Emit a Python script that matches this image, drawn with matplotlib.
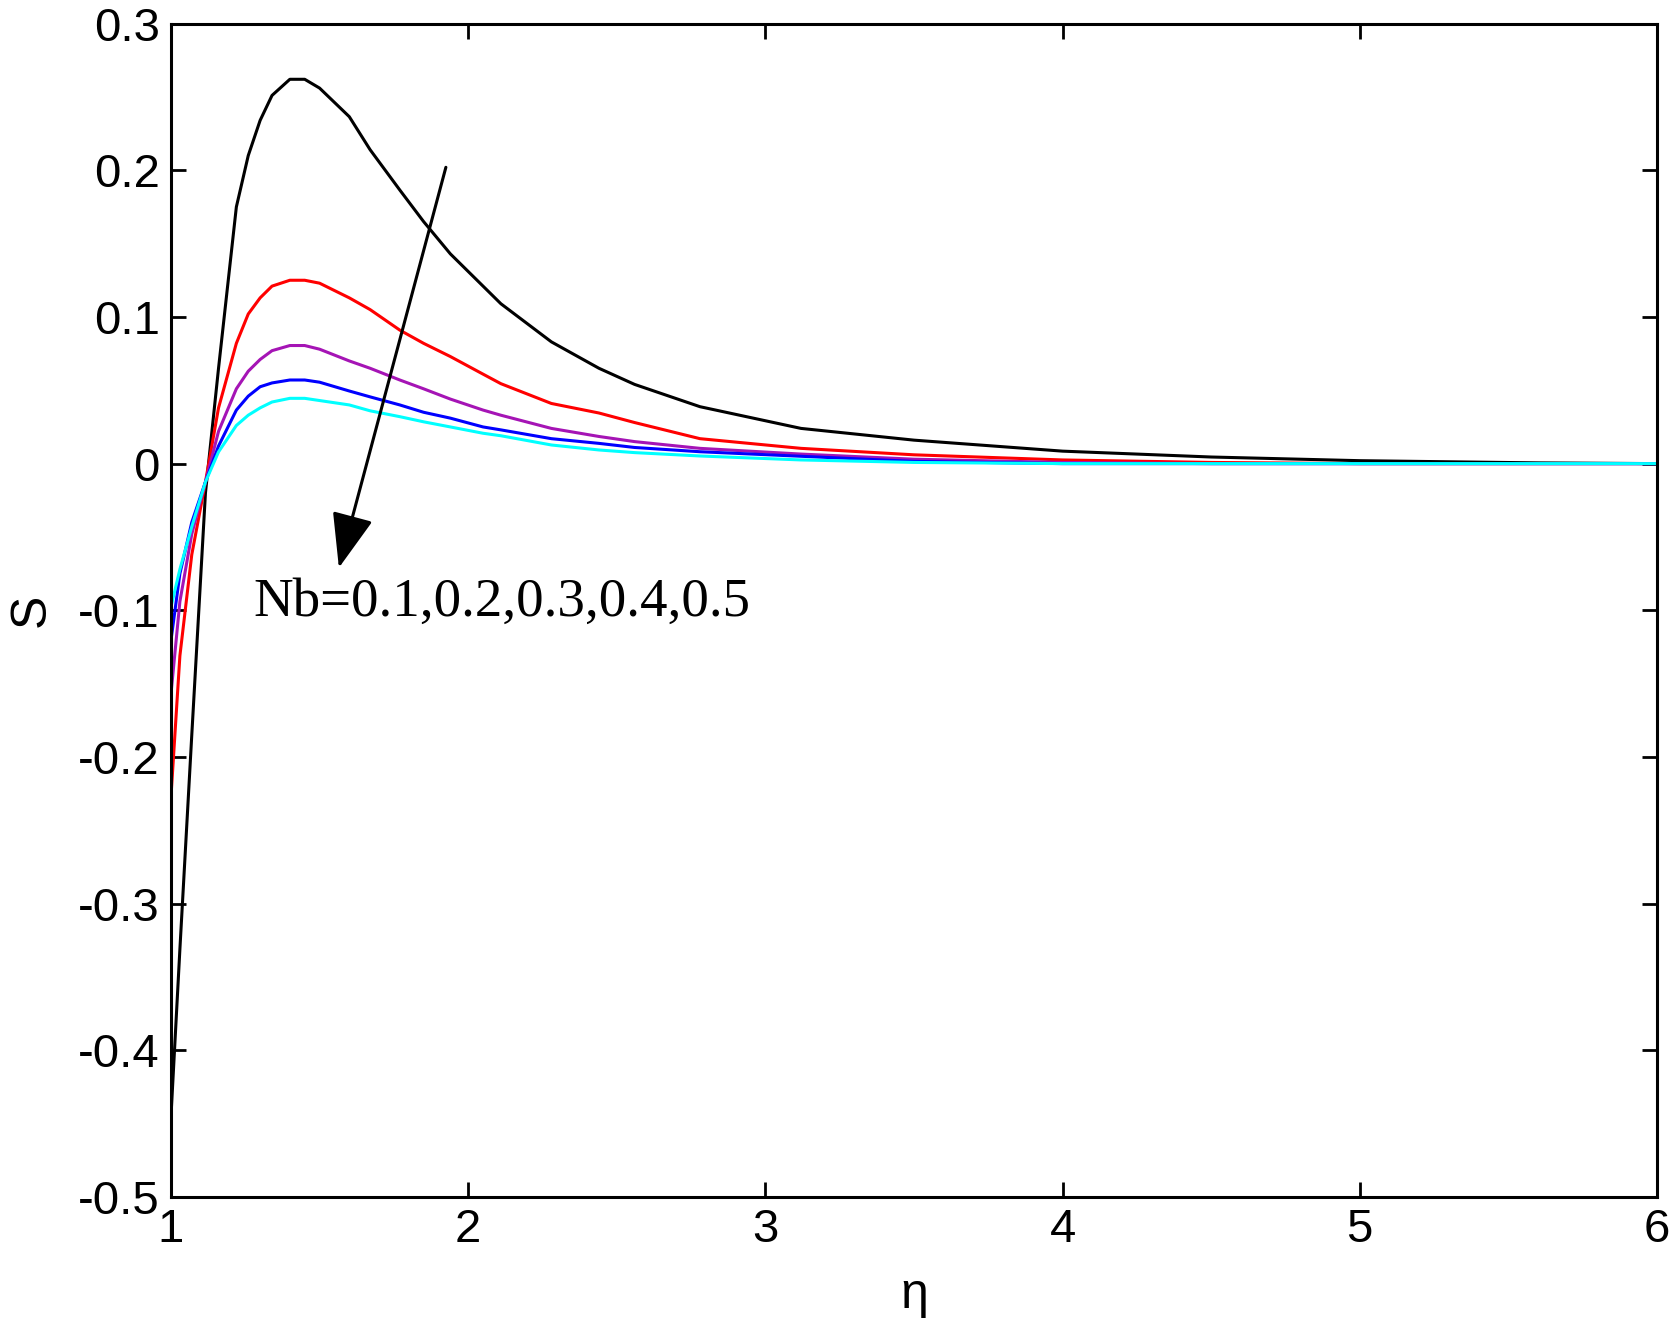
import numpy as np
import matplotlib
matplotlib.use('Agg')
import matplotlib.pyplot as plt

# eta grid and S profiles, one list per Nb value
eta = [1.00, 1.03, 1.07, 1.116, 1.16, 1.22, 1.26, 1.30, 1.34, 1.40, 1.45, 1.50,
       1.60, 1.67, 1.77, 1.85, 1.94, 2.05, 2.11, 2.28, 2.44, 2.56, 2.78, 3.12,
       3.5, 4.0, 4.5, 5.0, 5.6, 6.0]

s_nb01 = [-0.445, -0.331, -0.185, -0.02, 0.065, 0.175, 0.21, 0.234, 0.251, 0.262, 0.262, 0.256,
          0.2365, 0.214, 0.1865, 0.165, 0.143, 0.121, 0.109, 0.083, 0.065, 0.054, 0.0388, 0.024,
          0.016, 0.0085, 0.0045, 0.002, 0.0005, 0.0]
s_nb02 = [-0.227, -0.131, -0.062, -0.0125, 0.038, 0.082, 0.102, 0.113, 0.121, 0.125, 0.125, 0.123,
          0.113, 0.105, 0.091, 0.082, 0.073, 0.061, 0.0545, 0.041, 0.0345, 0.028, 0.017, 0.0104,
          0.006, 0.0025, 0.0008, 0.0, 0.0, 0.0]
s_nb03 = [-0.157, -0.094, -0.048, -0.0125, 0.022, 0.051, 0.063, 0.071, 0.077, 0.0805, 0.0805, 0.078,
          0.070, 0.065, 0.057, 0.051, 0.044, 0.0365, 0.033, 0.024, 0.0185, 0.015, 0.0104, 0.0065,
          0.003, 0.0008, 0.0, 0.0, 0.0, 0.0]
s_nb04 = [-0.1205, -0.075, -0.040, -0.0125, 0.012, 0.0365, 0.046, 0.0524, 0.055, 0.057, 0.057, 0.0555,
          0.0495, 0.0455, 0.040, 0.035, 0.031, 0.025, 0.023, 0.017, 0.0138, 0.011, 0.0081, 0.005,
          0.0015, 0.0, 0.0, 0.0, 0.0, 0.0]
s_nb05 = [-0.0977, -0.072, -0.043, -0.0125, 0.008, 0.026, 0.033, 0.038, 0.042, 0.0445, 0.0445, 0.043,
          0.040, 0.036, 0.032, 0.0285, 0.025, 0.0207, 0.019, 0.0127, 0.0093, 0.0075, 0.0052, 0.0025,
          0.0008, 0.0, 0.0, 0.0, 0.0, 0.0]

curves = [s_nb01, s_nb02, s_nb03, s_nb04, s_nb05]
colors = ['black', 'red', '#A514B5', 'blue', 'cyan']

xticks = [1, 2, 3, 4, 5, 6]
yticks = [-0.5, -0.4, -0.3, -0.2, -0.1, 0, 0.1, 0.2, 0.3]
ytick_labels = ['-0.5', '-0.4', '-0.3', '-0.2', '-0.1', '0', '0.1', '0.2', '0.3']

plt.rcParams['font.family'] = ['Liberation Sans', 'DejaVu Sans']

fig = plt.figure(figsize=(16.73, 13.23), dpi=100)
ax = fig.add_axes([0.1022, 0.0952, 0.8882, 0.887])

for s, c in zip(curves, colors):
    ax.plot(eta, s, color=c, lw=2.2)

ax.set_xlim(1, 6)
ax.set_ylim(-0.5, 0.3)
ax.set_xticks(xticks)
ax.set_xticklabels([str(t) for t in xticks])
ax.set_yticks(yticks)
ax.set_yticklabels(ytick_labels)
ax.tick_params(direction='in', length=11, width=2, top=True, right=True,
               labelsize=34, pad=8)
for sp in ax.spines.values():
    sp.set_linewidth(2.2)

ax.set_xlabel('η', fontsize=36, labelpad=14)
ax.set_ylabel('S', fontsize=36, labelpad=17)

# arrow pointing in direction of increasing Nb
ax.annotate('', xy=(1.565, -0.071), xytext=(1.925, 0.202),
            arrowprops=dict(arrowstyle='-|>,head_length=1.7,head_width=0.65',
                            color='black', lw=2.2, mutation_scale=20, shrinkA=0, shrinkB=0))
ax.text(1.276, -0.095, 'Nb=0.1,0.2,0.3,0.4,0.5', fontsize=39.5,
        family=['Liberation Serif', 'DejaVu Serif'], va='center', ha='left')

fig.savefig('out.png', dpi=100)
